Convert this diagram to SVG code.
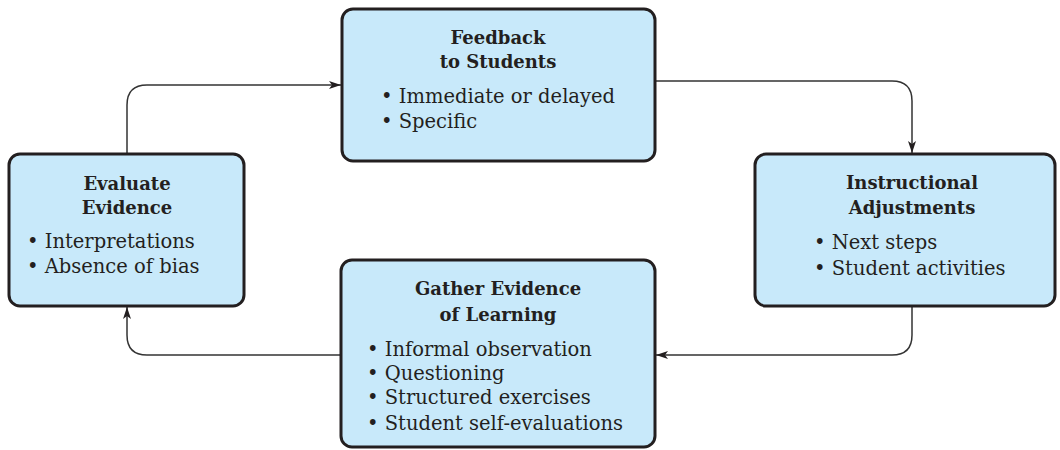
<svg xmlns="http://www.w3.org/2000/svg" width="1060" height="450" viewBox="0 0 1060 450">
<defs>
<style>
.box{fill:#c8e9fa;stroke:#231f20;stroke-width:3}
.t{font-family:"DejaVu Serif","Liberation Serif",serif;font-size:18px;font-weight:bold;fill:#231f20;text-anchor:middle}
.b{font-family:"DejaVu Serif","Liberation Serif",serif;font-size:19.5px;fill:#231f20}
.c{fill:none;stroke:#333;stroke-width:1.5}
</style>
<marker id="ah" viewBox="0 0 12 8" refX="12" refY="4" markerWidth="12" markerHeight="8" markerUnits="userSpaceOnUse" orient="auto">
<path d="M0,0 L12,4 L0,8 L3,4 Z" fill="#231f20"/>
</marker>
</defs>
<g id="connectors">
<path class="c" d="M127,153 V105 Q127,85 147,85 H341" marker-end="url(#ah)"/>
<path class="c" d="M656,81 H892 Q912,81 912,101 V153" marker-end="url(#ah)"/>
<path class="c" d="M912,307 V335 Q912,355 892,355 H656" marker-end="url(#ah)"/>
<path class="c" d="M340,355 H147 Q127,355 127,335 V307" marker-end="url(#ah)"/>
</g>
<g id="feedback">
<rect class="box" x="342" y="9" width="313" height="152" rx="11"/>
<text class="t" x="498" y="44">Feedback</text>
<text class="t" x="498" y="68">to Students</text>
<text class="b" x="381" y="103">• Immediate or delayed</text>
<text class="b" x="381" y="128">• Specific</text>
</g>
<g id="evaluate">
<rect class="box" x="9" y="154" width="235" height="152" rx="11"/>
<text class="t" x="127" y="190">Evaluate</text>
<text class="t" x="127" y="214">Evidence</text>
<text class="b" x="27" y="248">• Interpretations</text>
<text class="b" x="27" y="273">• Absence of bias</text>
</g>
<g id="instructional">
<rect class="box" x="755" y="154" width="300" height="152" rx="11"/>
<text class="t" x="912" y="189">Instructional</text>
<text class="t" x="912" y="214">Adjustments</text>
<text class="b" x="814" y="249">• Next steps</text>
<text class="b" x="814" y="275">• Student activities</text>
</g>
<g id="gather">
<rect class="box" x="341" y="260" width="314" height="187" rx="11"/>
<text class="t" x="498" y="295">Gather Evidence</text>
<text class="t" x="498" y="321">of Learning</text>
<text class="b" x="367" y="356">• Informal observation</text>
<text class="b" x="367" y="380">• Questioning</text>
<text class="b" x="367" y="404">• Structured exercises</text>
<text class="b" x="367" y="430">• Student self-evaluations</text>
</g>
</svg>
